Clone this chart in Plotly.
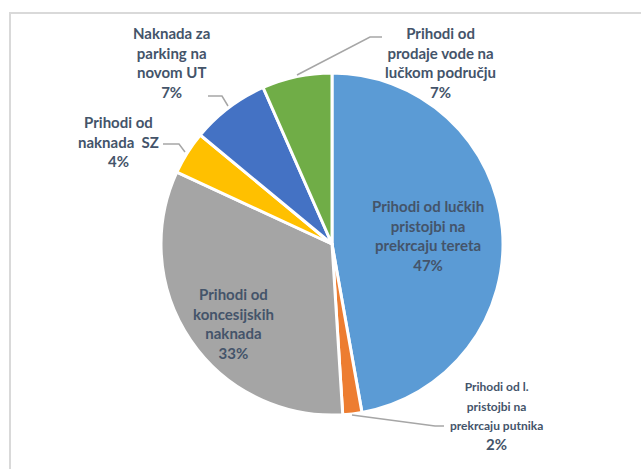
import plotly.graph_objects as go

# ---- data ----
labels = [
    "Prihodi od lučkih<br>pristojbi na<br>prekrcaju tereta",
    "Prihodi od l.<br>pristojbi na<br>prekrcaju putnika",
    "Prihodi od<br>koncesijskih<br>naknada",
    "Prihodi od<br>naknada  SZ",
    "Naknada za<br>parking na<br>novom UT",
    "Prihodi od<br>prodaje vode na<br>lučkom području",
]
values = [47.2, 1.8, 32.9, 4.1, 7.4, 6.6]
colors = ["#5B9BD5", "#ED7D31", "#A5A5A5", "#FFC000", "#4472C4", "#70AD47"]

TXT = "#44546A"
FONT = "Lato"
W, H = 641, 469

total = sum(values)
pcts = [round(v / total * 100) for v in values]

fig = go.Figure()
fig.add_trace(go.Pie(
    labels=labels,
    values=values,
    sort=False,
    direction="clockwise",
    rotation=0,
    marker=dict(colors=colors, line=dict(color="white", width=3)),
    textinfo="none",
    showlegend=False,
    hoverinfo="label+percent",
    domain=dict(x=[161 / W, 503 / W], y=[1 - 415 / H, 1 - 73 / H]),
))

def px(x, y):
    return x / W, 1 - y / H

# label positions (pixel centres)
label_pos = {
    0: (428, 235),
    1: (496, 416),
    2: (233, 323),
    3: (118, 141),
    4: (171, 62),
    5: (440, 62),
}
annotations = []
for i, (x, y) in label_pos.items():
    if i == 1:
        txt = f"<span style='font-size:12px'>{labels[i]}</span><br>{pcts[i]}%"
    else:
        txt = f"{labels[i]}<br>{pcts[i]}%"
    ax, ay = px(x, y)
    annotations.append(dict(
        x=ax, y=ay, xref="paper", yref="paper", text=txt, showarrow=False,
        xanchor="center", yanchor="middle", align="center",
        font=dict(family=FONT, size=15, color=TXT, weight="bold"),
    ))

# leader lines
leaders = [
    [(297, 75), (370, 37), (382, 37)],
    [(228, 106), (222, 96), (208, 96)],
    [(185, 152), (179, 144), (163, 144)],
    [(352, 415), (435, 426), (444, 426)],
]
shapes = []
for pts in leaders:
    path = "M " + " L ".join(f"{px(a, b)[0]},{px(a, b)[1]}" for a, b in pts)
    shapes.append(dict(type="path", xref="paper", yref="paper", path=path,
                       line=dict(color="#A6A6A6", width=1.5)))

# chart frame
shapes.append(dict(type="rect", xref="paper", yref="paper",
                   x0=10 / W, x1=1.01, y0=-0.01, y1=1 - 13 / H,
                   line=dict(color="#D9D9D9", width=2), fillcolor="rgba(0,0,0,0)"))

fig.update_layout(
    width=W, height=H,
    margin=dict(l=0, r=0, t=0, b=0),
    paper_bgcolor="white",
    plot_bgcolor="white",
    annotations=annotations,
    shapes=shapes,
    font=dict(family=FONT, color=TXT),
)

fig.write_html("out.html", config={"displayModeBar": False},
               post_script="document.body.style.margin='0px';")
